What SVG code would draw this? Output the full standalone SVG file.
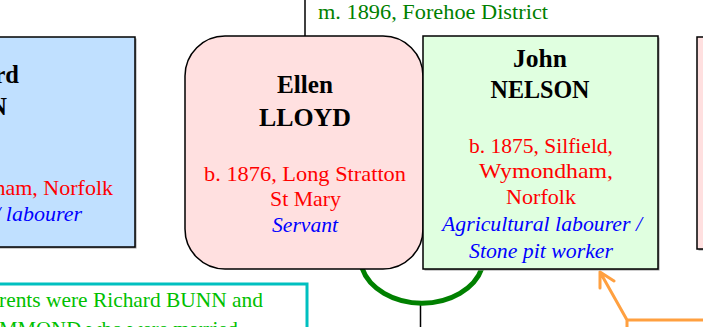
<svg xmlns="http://www.w3.org/2000/svg" width="703" height="327" viewBox="0 0 703 327">
<style>
text{font-family:"Liberation Serif","Times New Roman",serif;}
.nm{font-size:24.5px;font-weight:bold;fill:#000;text-anchor:middle;}
.b{font-size:22px;fill:#ff0000;text-anchor:middle;}
.o{font-size:22px;fill:#0000ff;font-style:italic;text-anchor:middle;}
.box{stroke:#000;stroke-width:1.5;}
.sh{fill:#999;}
.ln{stroke:#000;stroke-width:1.5;fill:none;}
</style>
<rect width="703" height="327" fill="#fff"/>
<g id="connectors">
<line class="ln" x1="305" y1="0" x2="305" y2="36"/>
<line class="ln" x1="420.5" y1="304" x2="420.5" y2="327"/>
<path d="M362 268 A62 47 0 0 0 482 268" fill="none" stroke="#008000" stroke-width="5"/>
<text x="318" y="19" font-size="21" fill="#008000" textLength="230" lengthAdjust="spacingAndGlyphs">m. 1896, Forehoe District</text>
<path d="M703 320 H627 L600 272 M627 327 V320 M600 288 L600 272 L614 281" fill="none" stroke="#ffa040" stroke-width="3" stroke-linejoin="round" stroke-linecap="round"/>
</g>
<g id="node-richard">
<rect class="sh" x="-100" y="38.5" width="236.5" height="210"/>
<rect class="box" x="-100" y="37" width="235" height="210" fill="#c0e0ff"/>
<text class="nm" x="19" y="83" style="text-anchor:end">rd</text>
<text class="nm" x="7" y="115" style="text-anchor:end">N</text>
<text class="b" x="113" y="195" style="text-anchor:end">ham, Norfolk</text>
<text class="o" x="82" y="221" style="text-anchor:end">/ labourer</text>
</g>
<g id="node-ellen">
<rect class="box" x="185" y="36" width="238" height="233" rx="40" ry="40" fill="#ffe0e0"/>
<text class="nm" x="305" y="93" textLength="56" lengthAdjust="spacingAndGlyphs">Ellen</text>
<text class="nm" x="305" y="126" textLength="92" lengthAdjust="spacingAndGlyphs">LLOYD</text>
<text class="b" x="305" y="181" textLength="202" lengthAdjust="spacingAndGlyphs">b. 1876, Long Stratton</text>
<text class="b" x="305.5" y="206" textLength="71" lengthAdjust="spacingAndGlyphs">St Mary</text>
<text class="o" x="305" y="232" textLength="66" lengthAdjust="spacingAndGlyphs">Servant</text>
</g>
<g id="node-john">
<rect class="sh" x="424.5" y="37.5" width="235" height="233"/>
<rect class="box" x="423" y="36" width="235" height="233" fill="#e0ffe0"/>
<text class="nm" x="540" y="67" textLength="54" lengthAdjust="spacingAndGlyphs">John</text>
<text class="nm" x="540" y="98" textLength="99" lengthAdjust="spacingAndGlyphs">NELSON</text>
<text class="b" x="541" y="153" textLength="144" lengthAdjust="spacingAndGlyphs">b. 1875, Silfield,</text>
<text class="b" x="546" y="178" textLength="134" lengthAdjust="spacingAndGlyphs">Wymondham,</text>
<text class="b" x="541" y="204" textLength="70" lengthAdjust="spacingAndGlyphs">Norfolk</text>
<text class="o" x="542" y="231" textLength="200" lengthAdjust="spacingAndGlyphs">Agricultural labourer /</text>
<text class="o" x="541" y="258" textLength="144" lengthAdjust="spacingAndGlyphs">Stone pit worker</text>
</g>
<g id="node-right">
<rect class="sh" x="698.5" y="38.5" width="20" height="212"/>
<rect class="box" x="697" y="37" width="20" height="212" fill="#ffe0e0"/>
</g>
<g id="node-note">
<rect x="-10" y="284" width="317" height="60" fill="#fff" stroke="#00c0c0" stroke-width="3"/>
<text x="-1" y="307" font-size="21.5" fill="#00c000" textLength="264" lengthAdjust="spacingAndGlyphs">rents were Richard BUNN and</text>
<text x="-1" y="336" font-size="21.5" fill="#00c000" textLength="239" lengthAdjust="spacingAndGlyphs">MMOND who were married</text>
</g>
</svg>
